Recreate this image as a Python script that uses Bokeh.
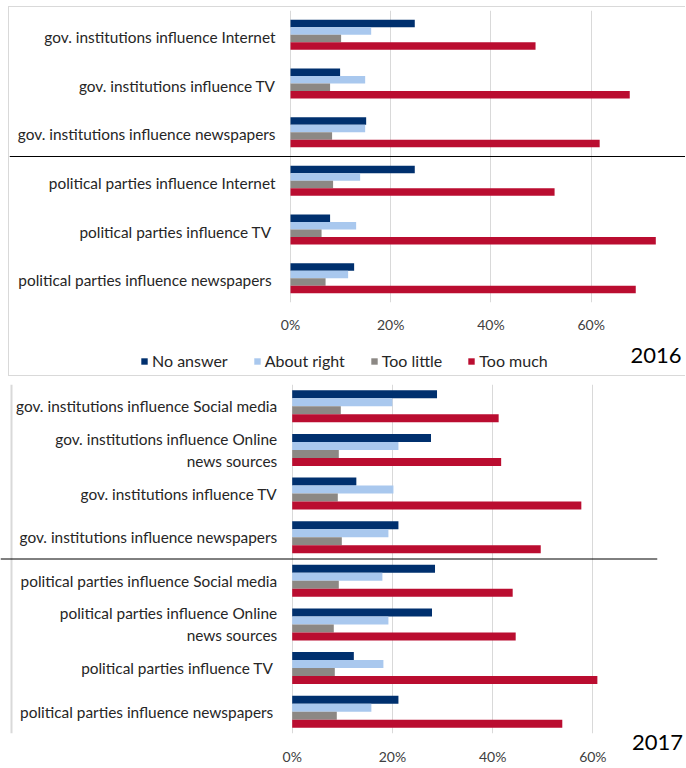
from bokeh.plotting import figure
from bokeh.layouts import column
from bokeh.models import (ColumnDataSource, Range1d, FactorRange, FixedTicker,
                          Legend, LegendItem, Label, Span)
from bokeh.transform import dodge
from bokeh.core.properties import value
from bokeh.embed import file_html
from bokeh.resources import INLINE

FONT = "Lato"

series = ["No answer", "About right", "Too little", "Too much"]
colors = ["#00306e", "#a9c8ee", "#8c8884", "#ba0d30"]

ticks = [0, 20, 40, 60]
tick_labels = ["0%", "20%", "40%", "60%"]

# ---- 2016 (top to bottom) ----
cats_2016 = [
    "gov. institutions influence Internet",
    "gov. institutions influence TV",
    "gov. institutions influence newspapers",
    "political parties influence Internet",
    "political parties influence  TV",
    "political parties influence  newspapers",
]
no_answer_2016 = [24.8, 9.9, 15.1, 24.8, 7.9, 12.7]
about_right_2016 = [16.1, 14.9, 14.9, 13.9, 13.1, 11.5]
too_little_2016 = [10.1, 7.9, 8.3, 8.5, 6.2, 7.0]
too_much_2016 = [48.9, 67.7, 61.7, 52.7, 72.9, 68.9]
n_parties_2016 = 3

# ---- 2017 (top to bottom) ----
cats_2017 = [
    "gov. institutions influence Social media",
    "gov. institutions influence Online\nnews sources",
    "gov. institutions influence TV",
    "gov. institutions influence newspapers",
    "political parties influence Social media",
    "political parties influence Online\nnews sources",
    "political parties influence  TV",
    "political parties influence  newspapers",
]
no_answer_2017 = [28.9, 27.7, 12.8, 21.2, 28.5, 27.9, 12.3, 21.2]
about_right_2017 = [20.0, 21.2, 20.2, 19.2, 18.0, 19.2, 18.2, 15.8]
too_little_2017 = [9.7, 9.3, 9.1, 9.9, 9.3, 8.3, 8.5, 8.9]
too_much_2017 = [41.2, 41.7, 57.7, 49.6, 44.0, 44.6, 60.9, 53.9]
n_parties_2017 = 4

PX_PER_PCT = 5.011
BORDER = "1px solid #d9d9d9"


def make_panel(cats, vals, n_parties, width, height, zero_px,
               border_top, border_bottom, border_right, bar_h, offsets, label_dy,
               tick_standoff, styles, left_rule_px=None, year=None):
    x_start = -zero_px / PX_PER_PCT
    x_end = x_start + (width - border_right) / PX_PER_PCT
    src = ColumnDataSource(dict(cat=cats, **{s: v for s, v in zip(series, vals)}))
    p = figure(width=width, height=height, output_backend="svg", toolbar_location=None,
               y_range=FactorRange(factors=list(reversed(cats)), range_padding=0),
               x_range=Range1d(x_start, x_end), y_axis_location=None,
               min_border_left=0, min_border_right=border_right,
               min_border_top=border_top, min_border_bottom=border_bottom,
               frame_align=False, styles=styles)
    p.outline_line_color = None
    p.ygrid.visible = False
    p.xgrid.ticker = FixedTicker(ticks=ticks)
    p.xgrid.grid_line_color = "#d9d9d9"
    ax = p.xaxis[0]
    ax.ticker = FixedTicker(ticks=ticks)
    ax.major_label_overrides = {t: l for t, l in zip(ticks, tick_labels)}
    ax.axis_line_color = None
    ax.major_tick_line_color = None
    ax.minor_tick_line_color = None
    ax.major_tick_out = 0
    ax.major_label_standoff = tick_standoff
    ax.major_label_text_font = FONT
    ax.major_label_text_font_size = "14px"
    ax.major_label_text_color = "#404040"
    if year is not None:
        ax.axis_label = year
        ax.axis_label_align = "end"
        ax.axis_label_standoff = -33
        ax.axis_label_text_font = FONT
        ax.axis_label_text_font_size = "22px"
        ax.axis_label_text_font_style = "normal"
        ax.axis_label_text_color = "#000000"

    if left_rule_px is not None:
        p.add_layout(Span(location=x_start + left_rule_px / PX_PER_PCT, dimension="height",
                          line_color="#d9d9d9", line_width=2))

    rends = []
    for s, c, off in zip(series, colors, offsets):
        r = p.hbar(y=dodge("cat", off, range=p.y_range), right=s, left=0, height=bar_h,
                   fill_color=c, line_color=None, source=src)
        rends.append(r)

    p.text(x=0, y="cat", text="cat", source=src, x_offset=-15, y_offset=label_dy,
           text_align="right", text_baseline="middle", text_font=value(FONT),
           text_font_size="15.4px", text_color="#262626", text_line_height=1.22)

    p.add_layout(Span(location=n_parties, dimension="width", line_color="black",
                      line_width=1))
    return p


# top panel: plot + legend row
p1 = make_panel(cats_2016,
                [no_answer_2016, about_right_2016, too_little_2016, too_much_2016],
                n_parties_2016, 677, 329, 281,
                3, 34, 0, 0.154, [0.231, 0.077, -0.077, -0.231], 2, 13,
                {"margin-left": "8px", "margin-top": "6px",
                 "border-left": BORDER, "border-top": BORDER})

leg = figure(width=677, height=41, output_backend="svg", toolbar_location=None,
             x_range=Range1d(0, 1), y_range=Range1d(0, 1),
             x_axis_location=None, y_axis_location=None, min_border=0,
             frame_align=False,
             styles={"margin-left": "8px", "border-left": BORDER, "border-bottom": BORDER})
leg.outline_line_color = None
leg.xgrid.visible = False
leg.ygrid.visible = False
# zero-size swatch renderers, used only for the legend entries
leg_rends = [leg.hbar(y=[0], left=[0], right=[0], height=0, fill_color=c, line_color=None)
             for c in colors]
leg.add_layout(Legend(items=[LegendItem(label=s, renderers=[r])
                             for s, r in zip(series, leg_rends)],
                      orientation="horizontal", location=(131, 6),
                      border_line_color=None, background_fill_alpha=0,
                      glyph_width=8, glyph_height=8, label_standoff=4, spacing=25,
                      label_text_font=FONT, label_text_font_size="16px",
                      label_text_color="#262626", padding=4, margin=0))
leg.add_layout(Label(x=621, y=21, x_units="screen", y_units="screen", text="2016",
                     text_font=FONT, text_font_size="22px", text_baseline="middle",
                     text_color="#000000"))

# bottom panel
p2 = make_panel(cats_2017,
                [no_answer_2017, about_right_2017, too_little_2017, too_much_2017],
                n_parties_2017, 686, 390, 291.7,
                8, 33, 29, 0.183, [0.2745, 0.0915, -0.0915, -0.2745], 0, 14,
                {}, left_rule_px=11, year="2017")

layout = column(p1, leg, p2, spacing=0)
open("out.html", "w").write(file_html(layout, INLINE))
